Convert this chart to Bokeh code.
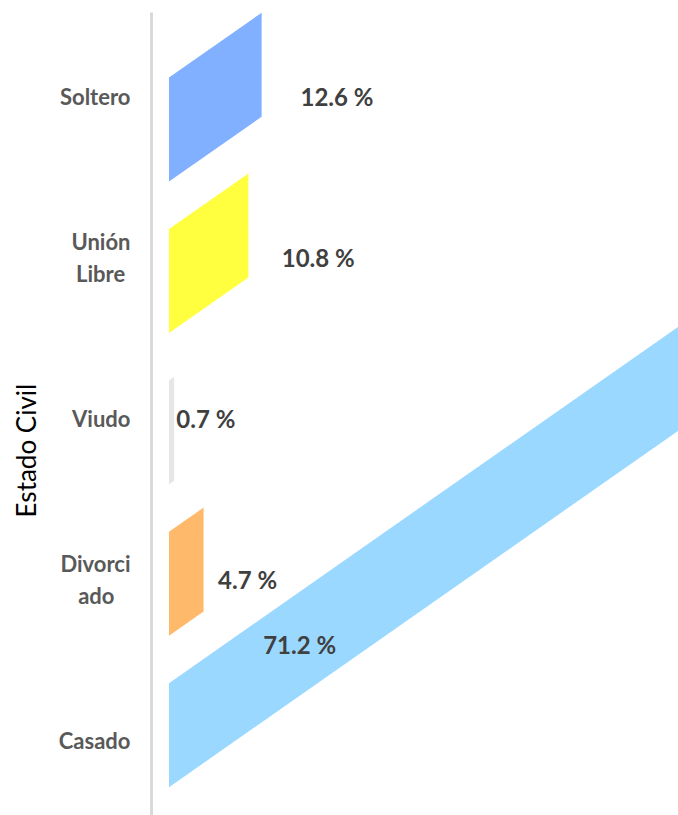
import math
from bokeh.plotting import figure
from bokeh.models import Range1d, FixedTicker, ColumnDataSource
from bokeh.core.properties import value
from bokeh.embed import file_html
from bokeh.resources import INLINE

# ---- data ----
categories = ["Soltero", "Unión Libre", "Viudo", "Divorciado", "Casado"]
tick_labels = ["Soltero", "Unión\nLibre\u00a0", "Viudo", "Divorci\nado\u00a0\u00a0\u00a0", "Casado"]
percentages = [12.6, 10.8, 0.7, 4.7, 71.2]
colors = ["#80b0ff", "#ffff40", "#e6e6e6", "#ffb96b", "#9ad8ff"]
axis_title = "Estado Civil"

# ---- layout constants (styling / pseudo-3D projection) ----
CAT_PX = 161.0          # px per category step (labels)
X_PX = 7.35             # px per percent
SLOPE = 0.70            # pseudo-3D slant (px rise per px run)
K = SLOPE * X_PX / CAT_PX
HALF_H = 52.0 / CAT_PX
DEPTH = 151.4 / CAT_PX  # bar spacing relative to label spacing (perspective)
OFF = 33.3 / CAT_PX

FRAME_LEFT = 151
x_start = -(168.5 - FRAME_LEFT) / X_PX
x_end = (678 - 168.5) / X_PX
y_top, y_bottom = -0.5205, -0.5205 + 803.0 / CAT_PX

p = figure(width=678, height=815,
           x_range=Range1d(x_start, x_end),
           y_range=Range1d(y_bottom, y_top),
           x_axis_location=None,
           output_backend="svg", toolbar_location=None,
           min_border_left=FRAME_LEFT, min_border_right=0,
           min_border_top=12, min_border_bottom=0)
p.outline_line_color = None
p.grid.visible = False
p.background_fill_color = "white"

centers = [OFF + i * DEPTH for i in range(len(percentages))]
xs, ys = [], []
for c, v in zip(centers, percentages):
    xs.append([0, v, v, 0])
    ys.append([c - HALF_H, c - HALF_H - K * v, c + HALF_H - K * v, c + HALF_H])
src = ColumnDataSource(dict(xs=xs, ys=ys, color=colors, name=categories))
p.patches("xs", "ys", fill_color="color", line_color=None, source=src)

# value labels
lx, ly, lt = [], [], []
for i, (c, v) in enumerate(zip(centers, percentages)):
    outside = v * 1.42
    if outside + 8 < x_end:
        lx.append(outside)
        ly.append(i)
    else:
        inside = v * 0.18
        lx.append(inside)
        ly.append(c - K * (inside + 4.8))
    lt.append(f"{v:.1f} %")
p.text(x=lx, y=ly, text=lt, text_font=value("Lato"), text_font_style="bold",
       text_font_size="24px", text_color="#404040",
       text_baseline="middle", text_align="left")

ax = p.yaxis[0]
ax.ticker = FixedTicker(ticks=list(range(len(categories))))
ax.major_label_overrides = {i: t for i, t in enumerate(tick_labels)}
ax.axis_line_color = "#d9d9d9"
ax.axis_line_width = 3
ax.major_tick_line_color = None
ax.major_tick_out = 0
ax.major_tick_in = 0
ax.minor_tick_line_color = None
ax.minor_tick_out = 0
ax.major_label_text_font = "Lato"
ax.major_label_text_font_style = "bold"
ax.major_label_text_font_size = "22px"
ax.major_label_text_color = "#595959"
ax.major_label_standoff = 21
ax.axis_label = axis_title + "\u00a0" * 11
ax.axis_label_text_font = "Lato"
ax.axis_label_text_font_style = "normal"
ax.axis_label_text_font_size = "26px"
ax.axis_label_text_color = "black"
ax.axis_label_standoff = 14

open("out.html", "w").write(file_html(p, INLINE))
